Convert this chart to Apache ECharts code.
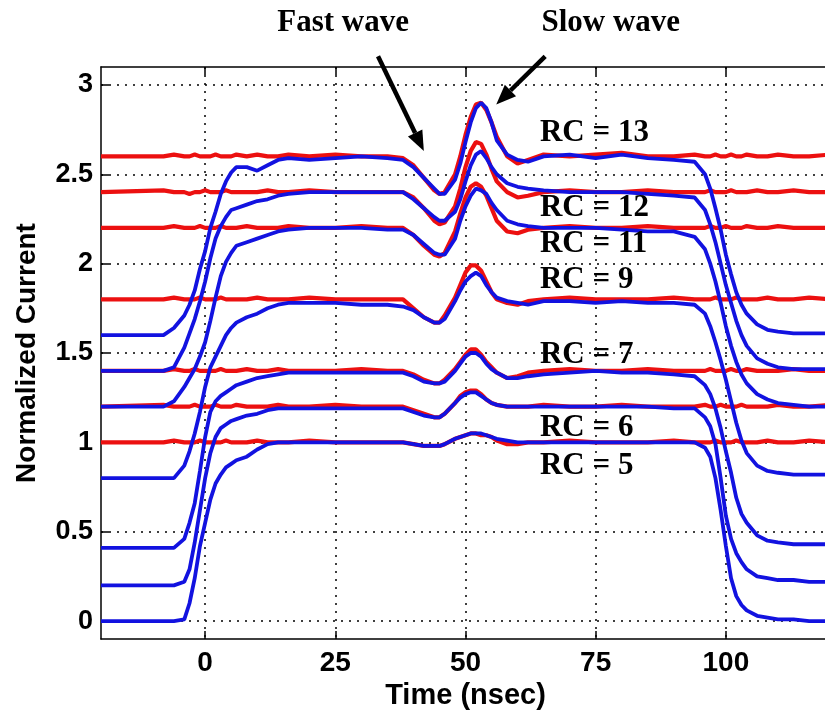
<!DOCTYPE html>
<html>
<head>
<meta charset="utf-8">
<script src="https://cdn.jsdelivr.net/npm/echarts@6/dist/echarts.min.js"></script>
<style>
  html, body { margin: 0; padding: 0; background: #fff; }
  #chart { width: 825px; height: 717px; }
</style>
</head>
<body>
<div id="chart"></div>
<script>
// time axis shared by all traces (nsec)
var timeNs = [-20, -8, -6, -4, -3, -2, -1,
  0, 1, 2, 3, 4, 5, 6,
  8, 10, 12, 14, 16,
  20, 25, 30, 35, 38,
  40, 42, 44, 45, 46,
  48, 49, 50, 51, 52,
  53, 54, 55, 56, 58,
  60, 62, 65, 70, 75,
  80, 85, 90, 94, 96,
  97, 98, 99, 100, 101,
  102, 103, 104, 106, 108,
  110, 113, 116, 120];

// blue traces (normalized current)
var blueRC13 = [1.60, 1.60, 1.64, 1.71, 1.77, 1.85, 1.97,
  2.07, 2.20, 2.29, 2.39, 2.46, 2.51, 2.54,
  2.54, 2.52, 2.55, 2.58, 2.59,
  2.58, 2.59, 2.60, 2.59, 2.58,
  2.54, 2.48, 2.42, 2.39, 2.39,
  2.47, 2.56, 2.68, 2.79, 2.87,
  2.90, 2.87, 2.79, 2.69, 2.61,
  2.58, 2.57, 2.60, 2.61, 2.59,
  2.61, 2.59, 2.58, 2.57, 2.50,
  2.42, 2.31, 2.19, 2.05, 1.94,
  1.84, 1.77, 1.72, 1.66, 1.63,
  1.62, 1.61, 1.61, 1.61];
var blueRC12 = [1.40, 1.40, 1.42, 1.53, 1.61, 1.69, 1.79,
  1.90, 2.03, 2.14, 2.21, 2.26, 2.30, 2.31,
  2.33, 2.35, 2.36, 2.38, 2.39,
  2.40, 2.40, 2.40, 2.40, 2.40,
  2.36, 2.31, 2.26, 2.24, 2.24,
  2.29, 2.36, 2.46, 2.55, 2.61,
  2.63, 2.59, 2.54, 2.50, 2.45,
  2.43, 2.42, 2.41, 2.40, 2.40,
  2.40, 2.39, 2.38, 2.37, 2.30,
  2.22, 2.12, 2.00, 1.88, 1.78,
  1.68, 1.60, 1.54, 1.47, 1.44,
  1.42, 1.41, 1.41, 1.41];
var blueRC11 = [1.20, 1.20, 1.23, 1.31, 1.36, 1.41, 1.48,
  1.56, 1.68, 1.81, 1.93, 2.01, 2.06, 2.10,
  2.12, 2.14, 2.16, 2.18, 2.19,
  2.20, 2.20, 2.20, 2.19, 2.19,
  2.16, 2.11, 2.06, 2.05, 2.05,
  2.14, 2.24, 2.32, 2.38, 2.42,
  2.41, 2.39, 2.34, 2.30, 2.24,
  2.22, 2.21, 2.20, 2.20, 2.20,
  2.19, 2.18, 2.18, 2.15, 2.08,
  2.00, 1.90, 1.78, 1.65, 1.54,
  1.45, 1.38, 1.33, 1.27, 1.24,
  1.22, 1.21, 1.20, 1.20];
var blueRC9 = [0.80, 0.80, 0.80, 0.87, 0.95, 1.05, 1.17,
  1.31, 1.42, 1.48, 1.54, 1.60, 1.64, 1.67,
  1.70, 1.72, 1.75, 1.77, 1.78,
  1.78, 1.78, 1.77, 1.77, 1.76,
  1.74, 1.70, 1.67, 1.67, 1.69,
  1.79, 1.85, 1.90, 1.93, 1.95,
  1.93, 1.88, 1.84, 1.81, 1.79,
  1.78, 1.77, 1.79, 1.79, 1.78,
  1.79, 1.78, 1.78, 1.77, 1.72,
  1.65, 1.56, 1.46, 1.35, 1.23,
  1.11, 1.01, 0.94, 0.87, 0.84,
  0.83, 0.82, 0.82, 0.82];
var blueRC7 = [0.41, 0.41, 0.41, 0.46, 0.55, 0.66, 0.84,
  1.03, 1.17, 1.23, 1.26, 1.28, 1.30, 1.32,
  1.34, 1.36, 1.37, 1.38, 1.39,
  1.39, 1.39, 1.39, 1.39, 1.39,
  1.37, 1.34, 1.33, 1.33, 1.34,
  1.40, 1.44, 1.48, 1.50, 1.50,
  1.48, 1.44, 1.41, 1.39, 1.36,
  1.36, 1.37, 1.38, 1.39, 1.40,
  1.39, 1.39, 1.38, 1.37, 1.32,
  1.27, 1.19, 1.08, 0.95, 0.83,
  0.69, 0.60, 0.55, 0.48, 0.45,
  0.44, 0.43, 0.43, 0.43];
var blueRC6 = [0.20, 0.20, 0.20, 0.22, 0.29, 0.44, 0.62,
  0.80, 0.94, 1.03, 1.08, 1.10, 1.12, 1.13,
  1.15, 1.16, 1.18, 1.19, 1.19,
  1.19, 1.19, 1.19, 1.19, 1.19,
  1.17, 1.15, 1.14, 1.14, 1.16,
  1.22, 1.25, 1.27, 1.28, 1.28,
  1.26, 1.24, 1.22, 1.21, 1.20,
  1.20, 1.20, 1.20, 1.20, 1.20,
  1.20, 1.20, 1.19, 1.19, 1.14,
  1.09, 0.99, 0.80, 0.59, 0.46,
  0.38, 0.33, 0.29, 0.25, 0.24,
  0.23, 0.23, 0.22, 0.22];
var blueRC5 = [0.00, 0.00, 0.00, 0.01, 0.10, 0.24, 0.42,
  0.55, 0.68, 0.77, 0.82, 0.86, 0.88, 0.90,
  0.92, 0.96, 0.99, 1.00, 1.00,
  1.00, 1.00, 1.00, 1.00, 1.00,
  0.99, 0.98, 0.98, 0.98, 0.99,
  1.02, 1.03, 1.04, 1.05, 1.05,
  1.05, 1.04, 1.03, 1.02, 1.01,
  1.00, 1.00, 1.00, 1.00, 1.00,
  1.00, 1.00, 1.00, 1.00, 0.97,
  0.92, 0.80, 0.62, 0.42, 0.24,
  0.14, 0.09, 0.06, 0.03, 0.02,
  0.01, 0.01, 0.00, 0.00];

// red traces
var redRC13 = [2.60, 2.60, 2.61, 2.60, 2.60, 2.61, 2.60,
  2.60, 2.60, 2.61, 2.60, 2.60, 2.60, 2.61,
  2.60, 2.61, 2.60, 2.60, 2.61,
  2.60, 2.61, 2.60, 2.60, 2.59,
  2.55, 2.48, 2.41, 2.39, 2.40,
  2.50, 2.60, 2.72, 2.82, 2.89,
  2.90, 2.86, 2.79, 2.71, 2.60,
  2.56, 2.58, 2.61, 2.60, 2.61,
  2.62, 2.60, 2.60, 2.61, 2.60,
  2.60, 2.61, 2.60, 2.60, 2.61,
  2.60, 2.60, 2.61, 2.60, 2.60,
  2.61, 2.60, 2.60, 2.61];
var redRC12 = [2.40, 2.41, 2.40, 2.40, 2.39, 2.40, 2.40,
  2.41, 2.40, 2.40, 2.40, 2.41, 2.40, 2.40,
  2.40, 2.40, 2.41, 2.40, 2.40,
  2.41, 2.40, 2.40, 2.40, 2.40,
  2.37, 2.31, 2.24, 2.22, 2.23,
  2.32, 2.42, 2.54, 2.63, 2.68,
  2.67, 2.61, 2.53, 2.46, 2.40,
  2.37, 2.38, 2.40, 2.41, 2.40,
  2.40, 2.41, 2.40, 2.40, 2.40,
  2.41, 2.40, 2.40, 2.40, 2.41,
  2.40, 2.40, 2.40, 2.41, 2.40,
  2.40, 2.41, 2.40, 2.40];
var redRC11 = [2.20, 2.20, 2.21, 2.20, 2.20, 2.20, 2.21,
  2.20, 2.20, 2.20, 2.21, 2.20, 2.20, 2.20,
  2.21, 2.20, 2.20, 2.20, 2.21,
  2.20, 2.20, 2.21, 2.20, 2.20,
  2.16, 2.10, 2.05, 2.04, 2.06,
  2.18, 2.28, 2.37, 2.43, 2.45,
  2.43, 2.38, 2.31, 2.24, 2.18,
  2.17, 2.19, 2.20, 2.21, 2.20,
  2.20, 2.21, 2.20, 2.20, 2.20,
  2.21, 2.20, 2.20, 2.21, 2.20,
  2.20, 2.20, 2.21, 2.20, 2.20,
  2.21, 2.20, 2.20, 2.20];
var redRC9 = [1.80, 1.80, 1.81, 1.80, 1.80, 1.80, 1.81,
  1.80, 1.80, 1.80, 1.81, 1.80, 1.80, 1.80,
  1.80, 1.81, 1.80, 1.80, 1.80,
  1.81, 1.80, 1.80, 1.80, 1.80,
  1.75, 1.70, 1.67, 1.67, 1.71,
  1.81, 1.88, 1.95, 1.99, 1.99,
  1.96, 1.90, 1.84, 1.80, 1.78,
  1.77, 1.79, 1.80, 1.81, 1.80,
  1.80, 1.80, 1.81, 1.80, 1.80,
  1.80, 1.81, 1.80, 1.80, 1.80,
  1.81, 1.80, 1.80, 1.80, 1.81,
  1.80, 1.80, 1.81, 1.80];
var redRC7 = [1.40, 1.40, 1.41, 1.40, 1.40, 1.41, 1.40,
  1.40, 1.40, 1.40, 1.41, 1.40, 1.40, 1.40,
  1.41, 1.40, 1.40, 1.41, 1.40,
  1.40, 1.40, 1.41, 1.40, 1.40,
  1.38, 1.35, 1.33, 1.33, 1.35,
  1.41, 1.45, 1.49, 1.52, 1.52,
  1.49, 1.45, 1.42, 1.39, 1.36,
  1.37, 1.39, 1.40, 1.41, 1.40,
  1.40, 1.41, 1.40, 1.40, 1.40,
  1.41, 1.40, 1.40, 1.40, 1.41,
  1.40, 1.40, 1.41, 1.40, 1.40,
  1.40, 1.41, 1.40, 1.40];
var redRC6 = [1.20, 1.21, 1.20, 1.20, 1.20, 1.21, 1.20,
  1.20, 1.20, 1.21, 1.20, 1.20, 1.20, 1.21,
  1.20, 1.20, 1.20, 1.21, 1.20,
  1.20, 1.21, 1.20, 1.20, 1.20,
  1.18, 1.16, 1.14, 1.14, 1.16,
  1.22, 1.26, 1.28, 1.29, 1.29,
  1.27, 1.24, 1.22, 1.21, 1.20,
  1.20, 1.20, 1.21, 1.20, 1.20,
  1.21, 1.20, 1.20, 1.20, 1.21,
  1.20, 1.20, 1.21, 1.20, 1.20,
  1.20, 1.21, 1.20, 1.20, 1.20,
  1.21, 1.20, 1.20, 1.21];
var redRC5 = [1.00, 1.00, 1.01, 1.00, 1.00, 1.00, 1.01,
  1.00, 1.00, 1.00, 1.00, 1.01, 1.00, 1.00,
  1.00, 1.01, 1.00, 1.00, 1.00,
  1.01, 1.00, 1.00, 1.00, 1.00,
  0.99, 0.98, 0.98, 0.98, 0.99,
  1.02, 1.03, 1.04, 1.05, 1.05,
  1.04, 1.04, 1.03, 1.01, 0.99,
  0.99, 1.00, 1.00, 1.01, 1.00,
  1.00, 1.00, 1.01, 1.00, 1.00,
  1.00, 1.01, 1.00, 1.00, 1.00,
  1.01, 1.00, 1.00, 1.00, 1.01,
  1.00, 1.00, 1.01, 1.00];

var xTicks = [0, 25, 50, 75, 100];
var yTicks = [0, 0.5, 1, 1.5, 2, 2.5, 3];

// annotation text and where it sits (data coords)
var rcLabels = ['RC = 13', 'RC = 12', 'RC = 11', 'RC = 9', 'RC = 7', 'RC = 6', 'RC = 5'];
var rcLabelX = 64.3;
var rcLabelY = [2.73, 2.31, 2.11, 1.91, 1.49, 1.08, 0.87];
var waveLabels = ['Fast wave', 'Slow wave'];
var waveLabelPos = [[26.5, 3.345], [77.9, 3.345]];
// arrows: [tail, tip]
var waveArrows = [[[33.2, 3.16], [42.0, 2.63]], [[65.3, 3.16], [55.9, 2.89]]];

var redTraces = [redRC13, redRC12, redRC11, redRC9, redRC7, redRC6, redRC5];
var blueTraces = [blueRC13, blueRC12, blueRC11, blueRC9, blueRC7, blueRC6, blueRC5];

function pairs(ys) {
  return ys.map(function (y, i) { return [timeNs[i], y]; });
}

var series = [];
redTraces.forEach(function (ys, i) {
  series.push({
    name: rcLabels[i] + ' red', type: 'line', data: pairs(ys),
    showSymbol: false, symbol: 'none', xAxisIndex: 0, yAxisIndex: 0,
    lineStyle: { color: '#ec1010', width: 4.2 }
  });
});
blueTraces.forEach(function (ys, i) {
  series.push({
    name: rcLabels[i] + ' blue', type: 'line', data: pairs(ys),
    showSymbol: false, symbol: 'none', xAxisIndex: 0, yAxisIndex: 0,
    lineStyle: { color: '#1212e0', width: 3.8 }
  });
});

var dotted = { type: [2, 6], color: '#000', width: 1.5 };
var axisFont = { fontFamily: 'Liberation Sans', fontWeight: 'bold', color: '#000' };

var chart = echarts.init(document.getElementById('chart'));
chart.setOption({
  animation: false,
  backgroundColor: '#fff',
  grid: { left: 101, right: -5, top: 67, bottom: 78, outerBoundsMode: 'none' },
  xAxis: [{
    type: 'value', min: -20, max: 120, position: 'bottom',
    axisLine: { show: true, onZero: false, lineStyle: { color: '#000', width: 1.5 } },
    axisTick: { show: true, inside: true, length: 8, customValues: xTicks, lineStyle: { color: '#000', width: 1.5 } },
    axisLabel: Object.assign({ customValues: xTicks, fontSize: 28, margin: 10 }, axisFont),
    splitLine: { show: true, lineStyle: dotted },
    name: 'Time (nsec)', nameLocation: 'middle', nameGap: 40,
    nameTextStyle: Object.assign({ fontSize: 29 }, axisFont)
  }, {
    type: 'value', min: -20, max: 120, position: 'top',
    axisLine: { show: true, onZero: false, lineStyle: { color: '#000', width: 1.5 } },
    axisTick: { show: true, inside: true, length: 8, customValues: xTicks, lineStyle: { color: '#000', width: 1.5 } },
    axisLabel: { show: false },
    splitLine: { show: false }
  }],
  yAxis: {
    type: 'value', min: -0.1, max: 3.1,
    axisLine: { show: true, onZero: false, lineStyle: { color: '#000', width: 1.5 } },
    axisTick: { show: true, inside: true, length: 8, customValues: yTicks, lineStyle: { color: '#000', width: 1.5 } },
    axisLabel: Object.assign({ customValues: yTicks, fontSize: 27, margin: 8 }, axisFont),
    splitLine: { show: true, lineStyle: dotted },
    name: 'Normalized Current', nameLocation: 'middle', nameGap: 60, nameRotate: 90,
    nameTextStyle: Object.assign({ fontSize: 28 }, axisFont)
  },
  series: series
});

// annotations placed through the chart's own coordinate conversion
function toPx(p) { return chart.convertToPixel({ seriesIndex: 0 }, p); }
var serifFont = 'bold 31px "Liberation Serif", "Times New Roman", serif';
var graphics = [];
rcLabels.forEach(function (t, i) {
  var p = toPx([rcLabelX, rcLabelY[i]]);
  graphics.push({ type: 'text', x: p[0], y: p[1], z: 100,
    style: { text: t, font: serifFont, fill: '#000', align: 'left', verticalAlign: 'middle' } });
});
waveLabels.forEach(function (t, i) {
  var p = toPx(waveLabelPos[i]);
  graphics.push({ type: 'text', x: p[0], y: p[1], z: 100,
    style: { text: t, font: serifFont, fill: '#000', align: 'center', verticalAlign: 'middle' } });
});
waveArrows.forEach(function (a) {
  var s = toPx(a[0]), e = toPx(a[1]);
  var dx = e[0] - s[0], dy = e[1] - s[1], len = Math.sqrt(dx * dx + dy * dy);
  var ux = dx / len, uy = dy / len, head = 20, half = 8;
  var bx = e[0] - ux * head, by = e[1] - uy * head;
  graphics.push({ type: 'line', z: 100,
    shape: { x1: s[0], y1: s[1], x2: bx, y2: by },
    style: { stroke: '#000', lineWidth: 4.5 } });
  graphics.push({ type: 'polygon', z: 100,
    shape: { points: [[e[0], e[1]], [bx - uy * half, by + ux * half], [bx + uy * half, by - ux * half]] },
    style: { fill: '#000' } });
});
chart.setOption({ graphic: graphics });
</script>
</body>
</html>
